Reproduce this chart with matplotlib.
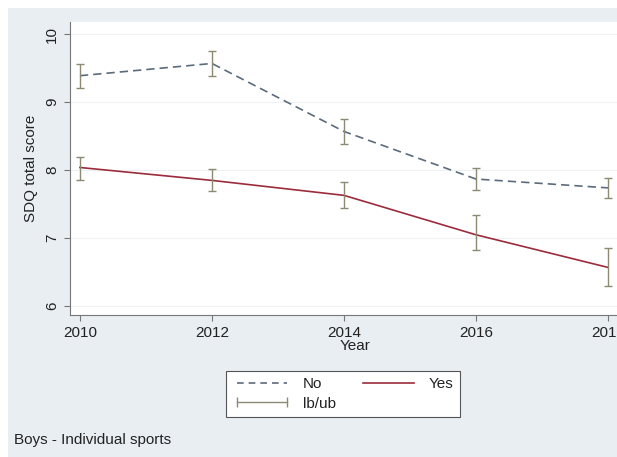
import numpy as np
import matplotlib.pyplot as plt
from matplotlib.lines import Line2D
from matplotlib.patches import Rectangle

plt.rcParams['font.family'] = ['Liberation Sans', 'DejaVu Sans']

years = [2010, 2012, 2014, 2016, 2018]

no_mean = [9.39, 9.57, 8.57, 7.87, 7.74]
no_lb = [9.21, 9.38, 8.38, 7.71, 7.59]
no_ub = [9.56, 9.76, 8.76, 8.03, 7.88]

yes_mean = [8.04, 7.85, 7.63, 7.05, 6.57]
yes_lb = [7.86, 7.69, 7.44, 6.82, 6.29]
yes_ub = [8.19, 8.02, 7.82, 7.34, 6.85]

bg = '#e9eef2'
col_no = '#5c6b7c'
col_yes = '#9b2c3c'
col_ci = '#8c8a72'
fs = 11

fig = plt.figure(figsize=(6.17, 4.57), dpi=100)
fig.patch.set_facecolor('white')
fig.add_artist(Rectangle((8/617, -0.01), 1, 1.01 - 8/457, transform=fig.transFigure,
                         facecolor=bg, edgecolor='none', zorder=0))

ax = fig.add_axes([70/617, 1 - 315/457, 571/617, 293/457])
ax.set_facecolor('white')

ax.plot(years, no_mean, color=col_no, lw=1.2, ls=(0, (5, 3)), zorder=3)
ax.plot(years, yes_mean, color=col_yes, lw=1.2, zorder=3)
for lb, ub, m in [(no_lb, no_ub, no_mean), (yes_lb, yes_ub, yes_mean)]:
    m = np.array(m)
    ax.errorbar(years, m, yerr=[m - np.array(lb), np.array(ub) - m], fmt='none',
                ecolor=col_ci, elinewidth=1, capsize=3, capthick=1, zorder=4)

ax.set_xlim(2009.85, 2018.5)
ax.set_ylim(5.87, 10.18)
ax.set_xticks(years)
ax.set_yticks([6, 7, 8, 9, 10])
ax.set_yticklabels(['6', '7', '8', '9', '10'], rotation=90, va='center')
ax.grid(axis='y', color='#eef1f4', lw=0.8)
ax.set_axisbelow(True)

for s in ['top', 'right']:
    ax.spines[s].set_visible(False)
for s in ['left', 'bottom']:
    ax.spines[s].set_color('#777777')
    ax.spines[s].set_linewidth(0.8)
ax.tick_params(colors='#777777', labelcolor='#222222', labelsize=fs, length=4, width=0.8, pad=4)

ax.set_ylabel('SDQ total score', fontsize=fs, labelpad=5, color='#222222')
ax.set_xlabel('Year', fontsize=fs, labelpad=-1, color='#222222', linespacing=0.8)

handles = [
    Line2D([], [], color=col_no, lw=1.2, ls=(0, (4, 3))),
    Line2D([], [], color=col_ci, lw=1, marker='|', markersize=7),
    Line2D([], [], color=col_yes, lw=1.2),
]
labels = ['No', 'lb/ub', 'Yes']
leg = fig.legend(handles, labels, ncol=2, numpoints=2, fontsize=fs,
                 loc='center', bbox_to_anchor=(343/617, 1 - 394/457),
                 handlelength=3.9, handletextpad=0.7, columnspacing=1.5,
                 labelspacing=0.35, fancybox=False, edgecolor='#555555',
                 framealpha=1, borderpad=0.4)
leg.get_frame().set_linewidth(0.8)
for t in leg.get_texts():
    t.set_color('#222222')

fig.text(14/617, 1 - 440/457, 'Boys - Individual sports', fontsize=fs, va='center',
         color='#222222')

fig.savefig('out.png', dpi=100)
